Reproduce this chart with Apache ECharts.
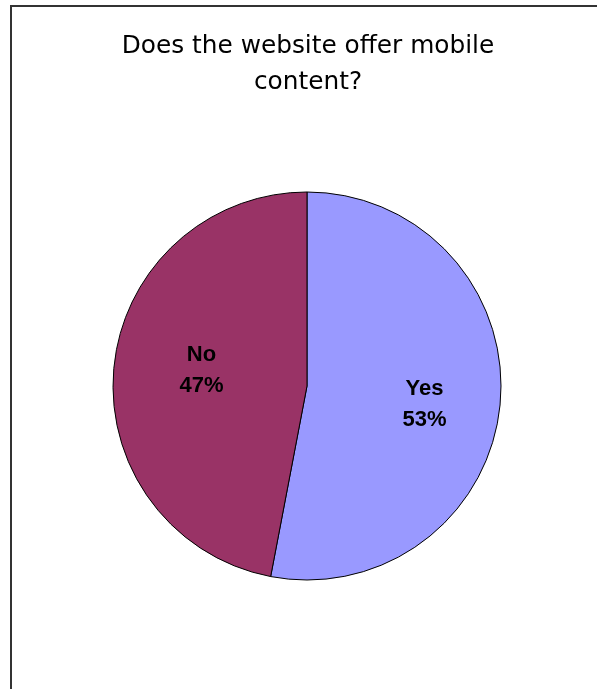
<!DOCTYPE html>
<html>
<head>
<meta charset="utf-8">
<script src="https://cdn.jsdelivr.net/npm/echarts@6/dist/echarts.min.js"></script>
<style>
html,body{margin:0;padding:0;background:#fff;}
#chart{width:597px;height:689px;}
</style>
</head>
<body>
<div id="chart"></div>
<script>
var titleText = 'Does the website offer mobile\ncontent?';
var categories = ['Yes', 'No'];
var values = [53, 47];
var colors = ['#9999FF', '#993366'];

// label nudges (style only)
var labelNudge = { Yes: [2, 8], No: [10, -5] };

var pieData = categories.map(function (c, i) {
  return { name: c, value: values[i], itemStyle: { color: colors[i] } };
});
var labelData = categories.map(function (c, i) {
  return { name: c, value: values[i], label: { offset: labelNudge[c] } };
});

var chart = echarts.init(document.getElementById('chart'), null, { renderer: 'canvas' });
chart.setOption({
  backgroundColor: '#ffffff',
  animation: false,
  title: {
    text: titleText,
    left: 303,
    textAlign: 'center',
    top: 24,
    textStyle: {
      fontFamily: 'DejaVu Sans',
      fontSize: 24.8,
      fontWeight: 'normal',
      color: '#000',
      lineHeight: 36
    }
  },
  graphic: [{
    type: 'rect',
    shape: { x: 11, y: 6, width: 700, height: 800 },
    style: { fill: 'none', stroke: '#333', lineWidth: 2 },
    silent: true,
    z: 100
  }],
  series: [
    {
      type: 'pie',
      center: [307, 386],
      radius: [0, 194],
      startAngle: 90,
      clockwise: true,
      silent: true,
      label: { show: false },
      labelLine: { show: false },
      itemStyle: { borderColor: '#000', borderWidth: 1 },
      data: pieData
    },
    {
      type: 'pie',
      center: [307, 386],
      radius: [32, 194],
      startAngle: 90,
      clockwise: true,
      silent: true,
      itemStyle: { color: 'rgba(0,0,0,0)', borderWidth: 0 },
      label: {
        show: true,
        position: 'inside',
        formatter: '{b}\n{d}%',
        fontFamily: 'Liberation Sans',
        fontWeight: 'bold',
        fontSize: 22,
        lineHeight: 31,
        color: '#000'
      },
      labelLine: { show: false },
      data: labelData
    }
  ]
});
</script>
</body>
</html>
